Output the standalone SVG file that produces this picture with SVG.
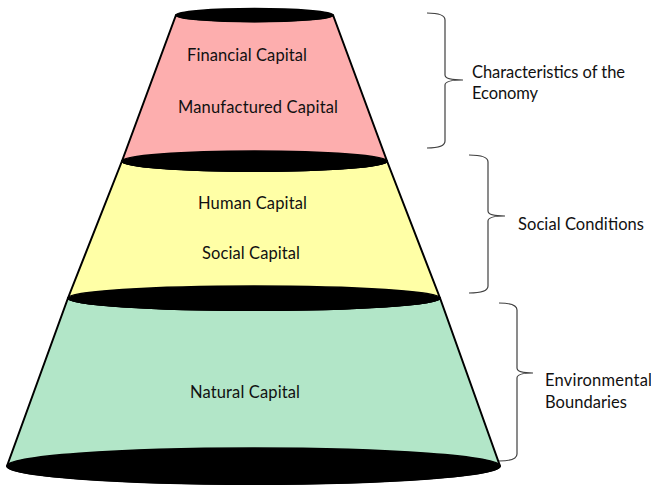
<svg xmlns="http://www.w3.org/2000/svg" width="651" height="486" viewBox="0 0 651 486">
<style>
.side{stroke:#000;stroke-width:2;stroke-linejoin:round}
.rim{fill:#000;stroke:#000;stroke-width:1.5}
.lbl{font-family:Lato,"Liberation Sans",sans-serif;font-size:16.5px;fill:#111;text-anchor:middle}
.rl{font-family:Lato,"Liberation Sans",sans-serif;font-size:16.5px;fill:#111}
.brace{fill:none;stroke:#404040;stroke-width:1.2}
</style>
<rect width="651" height="486" fill="#fff"/>
<g id="natural">
<path class="side" fill="#b2e6c8" d="M68,298 A186,12 0 0 0 440,298 L500,466 A246.5,18 0 0 1 7,466 Z"/>
<ellipse class="rim" cx="253.5" cy="466" rx="246.5" ry="18"/>
<text class="lbl" x="245" y="398" textLength="110">Natural Capital</text>
</g>
<g id="social">
<path class="side" fill="#ffffa6" d="M122,161 A132.5,10 0 0 0 387,161 L440,298 A186,12 0 0 1 68,298 Z"/>
<ellipse class="rim" cx="254" cy="298" rx="186" ry="12"/>
<text class="lbl" x="252.5" y="209" textLength="109">Human Capital</text>
<text class="lbl" x="251" y="259" textLength="98">Social Capital</text>
</g>
<g id="economy">
<path class="side" fill="#fdaeae" d="M176,15 A78.5,6.5 0 0 0 333,15 L387,161 A132.5,10 0 0 1 122,161 Z"/>
<ellipse class="rim" cx="254.5" cy="161" rx="132.5" ry="10"/>
<ellipse class="rim" cx="254.5" cy="15" rx="78.5" ry="6.5"/>
<text class="lbl" x="247" y="61" textLength="120">Financial Capital</text>
<text class="lbl" x="258" y="113" textLength="160">Manufactured Capital</text>
</g>
<g id="connectors">
<path class="brace" d="M427,13 Q445,13 445,20 L445,75 Q445,80 463,80 Q445,80 445,85 L445,141 Q445,148 427,148"/>
<path class="brace" d="M469,155 Q488,155 488,162 L488,211 Q488,216 505,216 Q488,216 488,221 L488,286 Q488,293 469,293"/>
<path class="brace" d="M499,303 Q517,303 517,310 L517,368 Q517,373 533,373 Q517,373 517,378 L517,454 Q517,461 499,461"/>
</g>
<g id="brace-labels">
<text class="rl" x="472" y="78" textLength="153">Characteristics of the</text>
<text class="rl" x="472" y="99" textLength="66">Economy</text>
<text class="rl" x="518" y="230" textLength="126">Social Conditions</text>
<text class="rl" x="545" y="386" textLength="107">Environmental</text>
<text class="rl" x="545" y="408" textLength="82">Boundaries</text>
</g>
</svg>
